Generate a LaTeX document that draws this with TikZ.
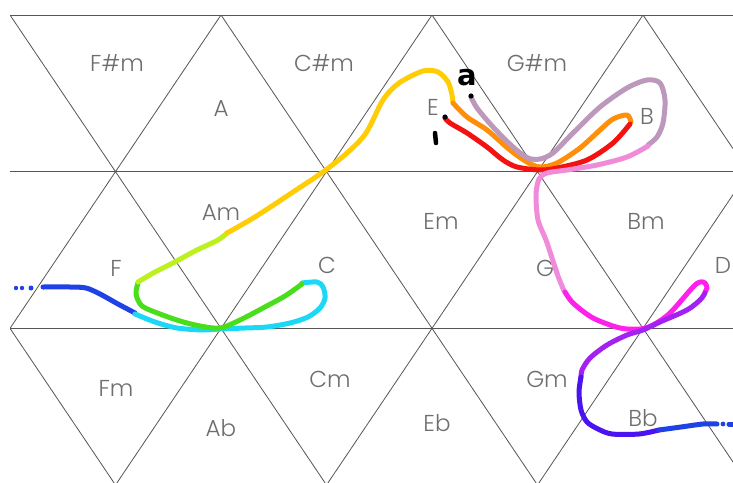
\documentclass[tikz,border=0pt]{standalone}
\usepackage{fontspec}
\newfontfamily\chordfont{Poppins Light}
\newfontfamily\markfont{DejaVu Sans}
\definecolor{gridline}{HTML}{555555}
\definecolor{labelgray}{HTML}{6E6E6E}
\definecolor{pblue}{HTML}{1F42E6}
\definecolor{pcyan}{HTML}{1CD8F6}
\definecolor{pgreen}{HTML}{48DF1A}
\definecolor{plime}{HTML}{BCF01E}
\definecolor{pgold}{HTML}{FFCD05}
\definecolor{porange}{HTML}{FF8E08}
\definecolor{pred}{HTML}{F21212}
\definecolor{pmauve}{HTML}{BC99BC}
\definecolor{ppink}{HTML}{F08BDA}
\definecolor{pmagenta}{HTML}{FF20EC}
\definecolor{ppurple}{HTML}{A322F2}
\definecolor{pindigo}{HTML}{4A14F0}
\tikzset{
  gridedge/.style={draw=gridline, line width=0.8pt},
  chord/.style={font=\chordfont\fontsize{23}{23}\selectfont, text=labelgray, inner sep=0pt},
  pathstroke/.style={line width=5pt, line cap=round, line join=round},
  penmark/.style={line width=4.5pt, line cap=round, black},
}
\begin{document}
\begin{tikzpicture}[x=1pt,y=-1pt]
\useasboundingbox[fill=white] (0,0) rectangle (733,482);

\begin{scope}
  \clip (10,15) rectangle (733,482);
  % horizontal rows of the triangular lattice
  \foreach \yy in {15,171.5,328} \draw[gridedge] (0,\yy) -- (740,\yy);
  % rising edges
  \foreach \k in {-1,...,4} \draw[gridedge] ({10+211*\k-105.5},485) -- ({10+211*\k+211},15);
  % falling edges
  \foreach \k in {-2,...,3} \draw[gridedge] ({10+211*\k},15) -- ({10+211*\k+316.5},485);
\end{scope}

% chord names
\node[chord] (cFsm) at (117,63) {F\#m};
\node[chord] (cA)   at (221,109) {A};
\node[chord] (cCsm) at (324,63) {C\#m};
\node[chord] (cGsm) at (537,63) {G\#m};
\node[chord] (cE)   at (433,107) {E};
\node[chord] (cB)   at (647,116) {B};
\node[chord] (cAm)  at (221,213) {Am};
\node[chord] (cEm)  at (441,221) {Em};
\node[chord] (cBm)  at (646,221) {Bm};
\node[chord] (cF)   at (116,268) {F};
\node[chord] (cC)   at (327,265) {C};
\node[chord] (cG)   at (545,268) {G};
\node[chord] (cD)   at (723,265) {D};
\node[chord] (cFm)  at (116,388) {Fm};
\node[chord] (cAb)  at (221,428) {Ab};
\node[chord] (cCm)  at (330,379) {Cm};
\node[chord] (cEb)  at (437,423) {Eb};
\node[chord] (cGm)  at (547,379) {Gm};
\node[chord] (cBb)  at (643,418) {Bb};

% the hand-drawn progression, one colour per stretch
\fill[pblue] (16,288) circle (2.2) (22,288) circle (2.2) (31,288) circle (2.5);
\draw[pathstroke, pblue] plot[smooth, tension=0.5] coordinates {(43,287) (70,287) (86,288) (100,294) (118,304) (135,313)};
\draw[pathstroke, pcyan] plot[smooth, tension=0.5] coordinates {(135,314) (155,322) (177,328) (203,330) (220,329) (245,328) (267,327) (290,323) (308,317) (320,308) (325,298) (323,287) (317,282) (302,283)};
\draw[pathstroke, pgreen] plot[smooth, tension=0.5] coordinates {(302,284) (285,296) (263,308) (240,320) (220,328) (200,326) (180,321) (160,314) (142,306) (136,294) (138,283)};
\draw[pathstroke, plime] plot[smooth, tension=0.5] coordinates {(138,282) (155,272) (173,263) (195,251) (218,240) (227,233)};
\draw[pathstroke, pgold] plot[smooth, tension=0.5] coordinates {(227,233) (250,220) (272,206) (293,192) (323,172) (347,153) (366,133) (383,100) (399,83) (423,71) (438,72) (448,82) (452,95) (453,103)};
\draw[pathstroke, porange] plot[smooth, tension=0.5] coordinates {(453,103) (467,117) (487,130) (510,150) (527,162) (540,167) (557,163) (580,148) (600,130) (613,119) (627,115) (631,122)};
\draw[pathstroke, pred] plot[smooth, tension=0.5] coordinates {(630,124) (613,143) (587,160) (557,168) (540,170) (517,167) (503,160) (487,147) (467,133) (450,123) (445,118)};
\draw[pathstroke, pmauve] plot[smooth, tension=0.5] coordinates {(471,97) (477,108) (493,127) (513,147) (528,158) (540,159) (553,153) (573,133) (600,107) (627,88) (647,80) (660,83) (665,100) (663,123) (657,137) (648,145)};
\draw[pathstroke, ppink] plot[smooth, tension=0.5] coordinates {(648,146) (627,157) (597,165) (567,170) (547,173) (539,179) (536,195) (538,220) (546,240) (553,261) (558,276) (564,291)};
\draw[pathstroke, pmagenta] plot[smooth, tension=0.5] coordinates {(565,292) (573,303) (593,318) (620,328) (640,329) (653,325) (670,313) (693,287) (700,282) (705,283) (707,288) (705,292)};
\draw[pathstroke, ppurple] plot[smooth, tension=0.5] coordinates {(705,293) (700,300) (687,310) (660,322) (643,330) (627,335) (607,345) (590,358) (582,370) (581,377)};
\draw[pathstroke, pindigo] plot[smooth, tension=0.5] coordinates {(581,377) (579,392) (581,410) (587,422) (598,429) (612,434) (639,434) (659,430)};
\draw[pathstroke, pblue] plot[smooth, tension=0.5] coordinates {(659,430) (681,427) (703,424) (717,424)};
\fill[pblue] (723,424) circle (2.4);
\draw[pathstroke, pblue] (729,424) -- (735,424);

% pen marks: start dots, counter and letter
\fill[black] (445,117) circle (2.6) (471,96) circle (2.6);
\draw[penmark] (435,133) -- (436,143);
\node[font=\markfont\bfseries\fontsize{29}{29}\selectfont, inner sep=0pt] (mark) at (467,78) {a};
\end{tikzpicture}
\end{document}
